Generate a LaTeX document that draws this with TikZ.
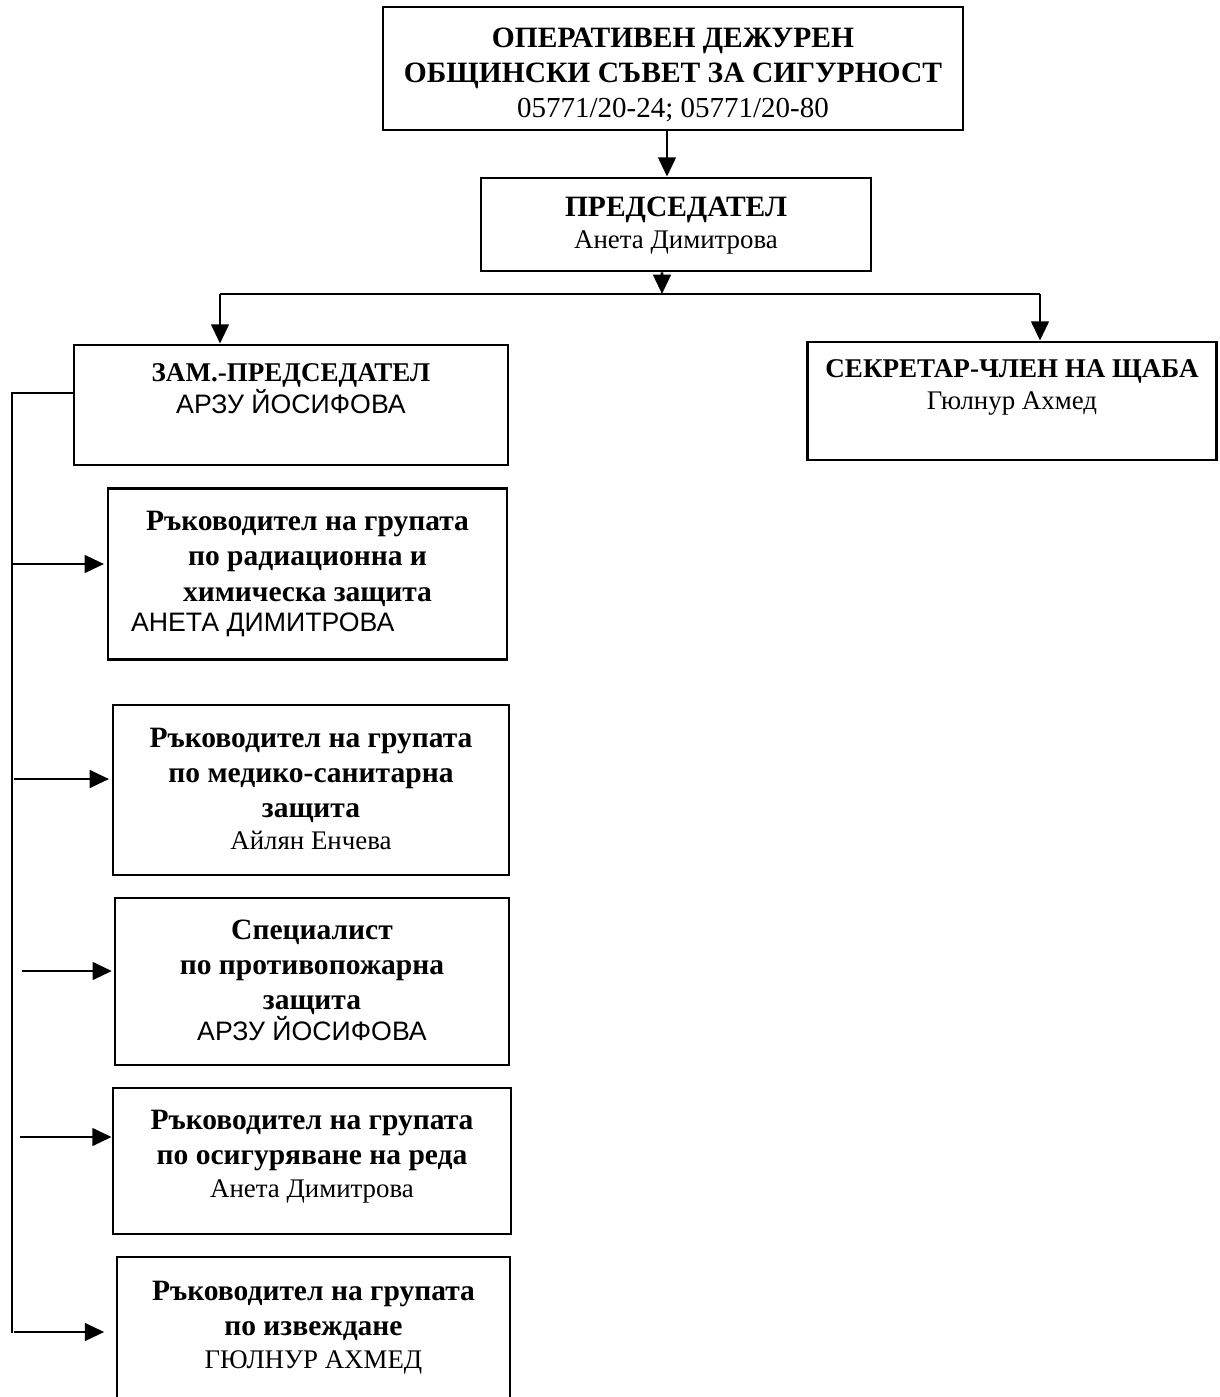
\documentclass[tikz,border=0pt]{standalone}
\usepackage{fontspec}
\setmainfont{Liberation Serif}
\newfontfamily\arialfont{Liberation Sans}
\usetikzlibrary{positioning,arrows.meta}

\tikzset{
	unit/.style={draw, line width=1.6pt, inner sep=0pt},
	caption/.style={align=center, inner sep=0pt, font=\fontsize{16.8}{20}\selectfont, execute at begin node=\strut},
	line/.style={line width=1.6pt},
	link/.style={line width=1.6pt, -{Triangle[length=11pt,width=10pt]}},
}
\newcommand{\nm}{\fontsize{15.3}{18}\selectfont}
\newcommand{\phone}{\fontsize{16.5}{18}\selectfont}
\newcommand{\nmsans}{\arialfont\fontsize{15.2}{18}\selectfont}
\newcommand{\hd}{\fontsize{15.4}{18}\selectfont\bfseries}

\begin{document}
\begin{tikzpicture}[x=0.02cm, y=-0.02cm]
	\useasboundingbox (0,0) rectangle (1220,1397);
	% boxes
	\node[unit, minimum width=11.6cm, minimum height=2.46cm] (ods) at (673,68.5) {};
	\node[unit, minimum width=7.8cm, minimum height=1.86cm] (pred) at (676,224.5) {};
	\node[unit, minimum width=8.68cm, minimum height=2.4cm] (zam) at (291,405) {};
	\node[unit, minimum width=8.18cm, minimum height=2.36cm] (sec) at (1012,401) {};
	\node[unit, minimum width=7.98cm, minimum height=3.42cm] (g1) at (307.5,574) {};
	\node[unit, minimum width=7.92cm, minimum height=3.4cm] (g2) at (311,790) {};
	\node[unit, minimum width=7.88cm, minimum height=3.34cm] (g3) at (312,981.5) {};
	\node[unit, minimum width=7.96cm, minimum height=2.92cm] (g4) at (312,1161) {};
	\node[unit, minimum width=7.86cm, minimum height=3.26cm] (g5) at (313.5,1338.5) {};
	% texts
	\node[caption, below=0.44cm of ods.north] (ods-t) {\textbf{ОПЕРАТИВЕН ДЕЖУРЕН}\\\textbf{ОБЩИНСКИ СЪВЕТ ЗА СИГУРНОСТ}\\{\phone 05771/20-24; 05771/20-80}};
	\node[caption, below=0.4cm of pred.north] (pred-t) {\textbf{ПРЕДСЕДАТЕЛ}\\[-2pt]{\nm Анета Димитрова}};
	\node[caption, below=0.4cm of zam.north] (zam-t) {{\hd ЗАМ.-ПРЕДСЕДАТЕЛ}\\[-2pt]{\nmsans АРЗУ ЙОСИФОВА}};
	\node[caption, below=0.38cm of sec.north] (sec-t) {{\hd СЕКРЕТАР-ЧЛЕН НА ЩАБА}\\[-2pt]{\nm Гюлнур Ахмед}};
	\node[caption, below=0.48cm of g1.north] (g1-t) {\textbf{Ръководител на групата}\\\textbf{по радиационна и}\\\textbf{химическа защита}\\[-2.5pt]{\nmsans АНЕТА ДИМИТРОВА}\hspace*{51pt}};
	\node[caption, below=0.48cm of g2.north] (g2-t) {\textbf{Ръководител на групата}\\\textbf{по медико-санитарна}\\\textbf{защита}\\[-2pt]{\nm Айлян Енчева}};
	\node[caption, below=0.46cm of g3.north] (g3-t) {\textbf{Специалист}\\\textbf{по противопожарна}\\\textbf{защита}\\[-2.5pt]{\nmsans АРЗУ ЙОСИФОВА}};
	\node[caption, below=0.46cm of g4.north] (g4-t) {\textbf{Ръководител на групата}\\\textbf{по осигуряване на реда}\\[-1pt]{\nm Анета Димитрова}};
	\node[caption, below=0.5cm of g5.north] (g5-t) {\textbf{Ръководител на групата}\\\textbf{по извеждане}\\[-1pt]{\nm ГЮЛНУР АХМЕД}};
	% connectors
	\draw[link] ([xshift=-0.12cm]ods.south) -- ([xshift=-0.12cm]ods.south |- pred.north);
	\coordinate (split) at (662,294);
	\coordinate (bl) at (220,294);
	\coordinate (br) at (1040,294);
	\draw[link] ([xshift=-0.28cm]pred.south) -- (split);
	\draw[line] (bl) -- (br);
	\draw[link] (bl) -- (bl |- zam.north);
	\draw[link] (br) -- (br |- sec.north);
	\coordinate (trunk) at (12,393);
	\coordinate (trunkend) at (12,1333);
	\draw[line] (zam.west |- trunk) -- (trunk) -- (trunkend);
	\coordinate (t1) at (12,564);
	\coordinate (t2) at (14,779);
	\coordinate (t3) at (22,971);
	\coordinate (t4) at (20,1137);
	\coordinate (t5) at (14,1332);
	\draw[link, shorten >=1.5pt] (t1) -- (t1 -| g1.west);
	\draw[link, shorten >=1.5pt] (t2) -- (t2 -| g2.west);
	\draw[link, shorten >=1pt] (t3) -- (t3 -| g3.west);
	\draw[link] (t4) -- (t4 -| g4.west);
	\draw[link, shorten >=6.5pt] (t5) -- (t5 -| g5.west);
\end{tikzpicture}
\end{document}
